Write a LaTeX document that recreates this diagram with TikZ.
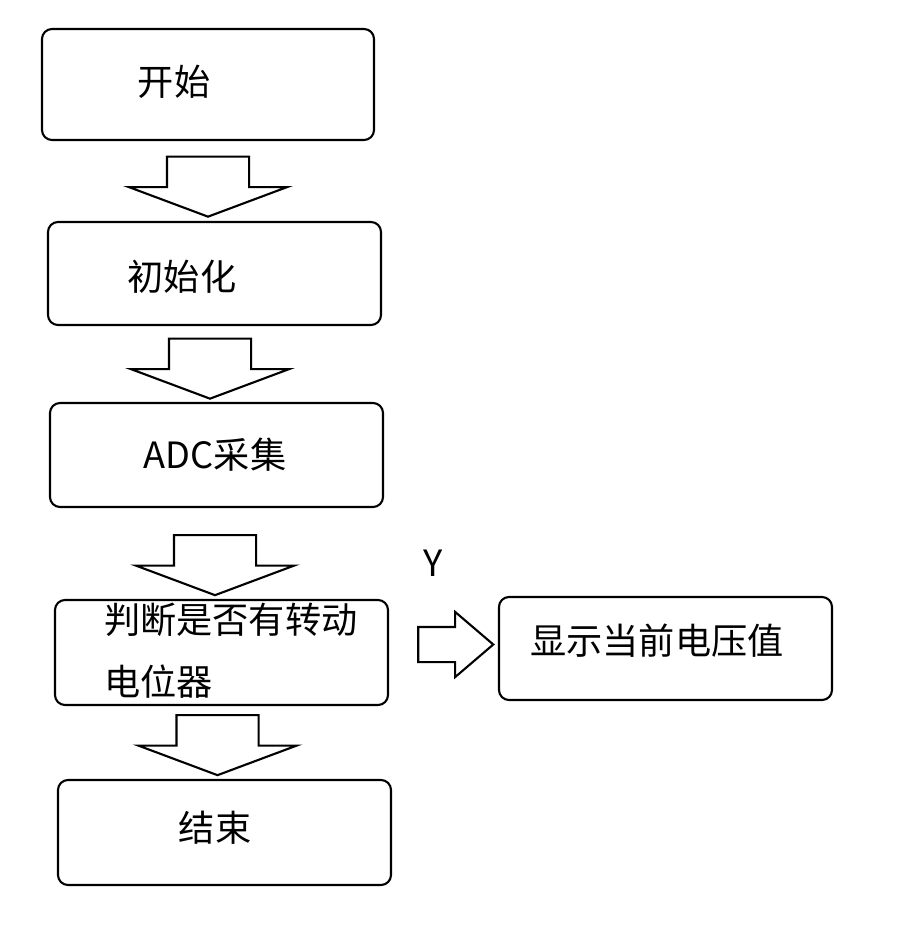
\documentclass[tikz,border=0pt]{standalone}
\usepackage{fontspec}
\setmainfont{Noto Sans CJK SC}
\usetikzlibrary{positioning, shapes.arrows}

\begin{document}
\begin{tikzpicture}[font=\fontsize{10.3}{17.6}\selectfont, line width=0.6pt,
    box/.style={draw, rounded corners=0.1cm, minimum width=3.33cm},
    downarrow/.style={draw, fill=white, single arrow, rotate=-90, inner xsep=0pt,
      inner ysep=0.4cm, minimum height=0.6cm, single arrow head extend=0.38cm,
      single arrow tip angle=139}]
    \useasboundingbox (0,0) rectangle (9.07,-9.28);

    \node[box, minimum width=3.32cm, minimum height=1.11cm] (start) at (2.08,-0.845) {};
    \node at (1.74,-0.82) {开始};

    \node[box, minimum height=1.03cm] (init) at (2.145,-2.735) {};
    \node at (1.82,-2.77) {初始化};

    \node[box, minimum height=1.04cm] (adc) at (2.165,-4.55) {};
    \node at (2.15,-4.55) {ADC采集};

    \node[box, minimum height=1.05cm] (check) at (2.215,-6.525) {};
    \node[anchor=west, inner sep=0pt, align=left] at (1.03,-6.51) {判断是否有转动\\电位器};

    \node[box, minimum height=1.05cm] (stop) at (2.245,-8.325) {};
    \node at (2.15,-8.28) {结束};

    \node[box, minimum height=1.03cm] (show) at (6.655,-6.485) {};
    \node at (6.57,-6.41) {显示当前电压值};

    % block arrows between the boxes
    \node[downarrow] (a1) at (2.08,-1.79) {};
    \node[downarrow] (a2) at (2.10,-3.61) {};
    \node[downarrow] (a3) at (2.15,-5.575) {};
    \node[downarrow] (a4) at (2.175,-7.375) {};
    \node[draw, fill=white, single arrow, inner xsep=0pt, inner ysep=0.165cm,
          minimum height=0.75cm, single arrow head extend=0.15cm,
          single arrow tip angle=81] (a5) at (4.455,-6.445) {};
    \node (yes) at (4.33,-5.63) {Y};
  \end{tikzpicture}
\end{document}
